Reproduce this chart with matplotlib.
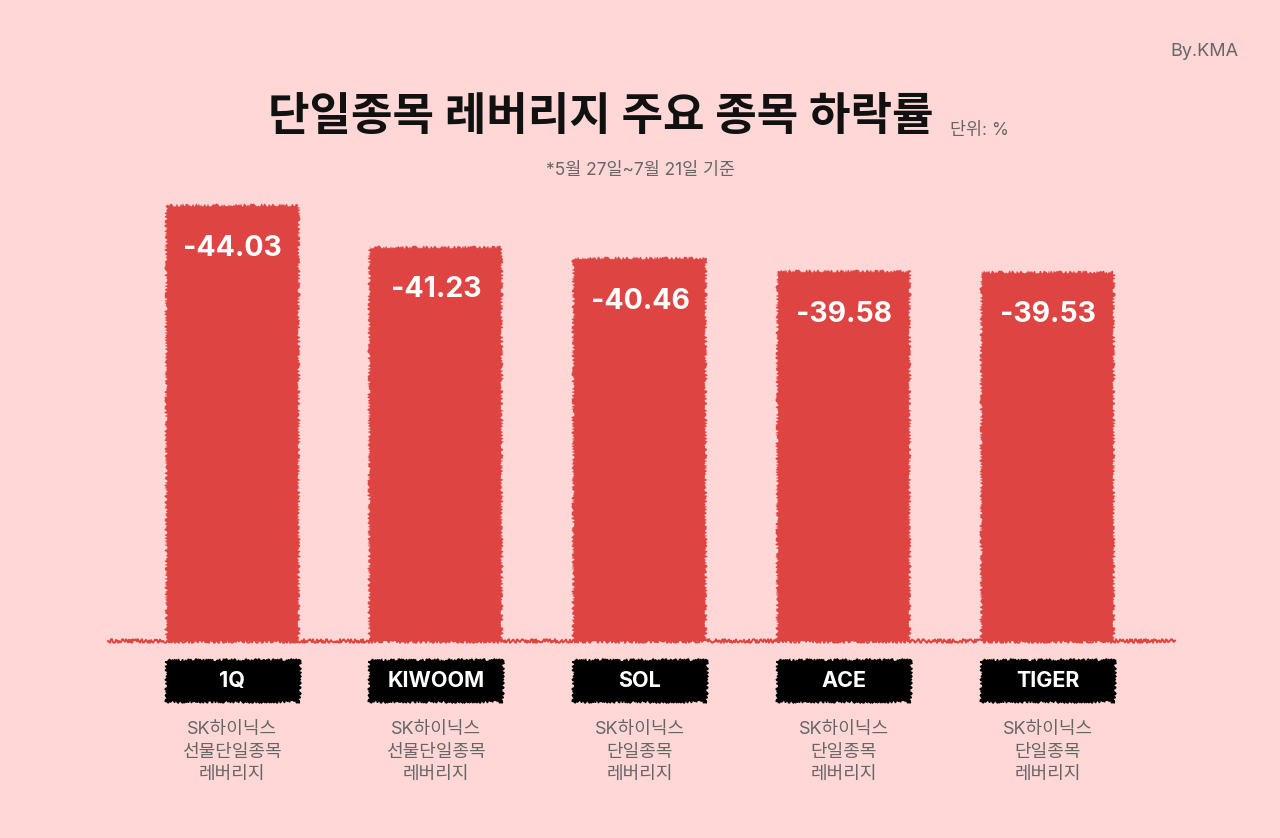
import matplotlib
matplotlib.use("Agg")
import matplotlib.pyplot as plt
from matplotlib.patches import Rectangle
from matplotlib.transforms import blended_transform_factory

# Inter for latin/digits, Noto CJK for hangul
plt.rcParams['font.family'] = ['Inter', 'Noto Sans CJK KR', 'DejaVu Sans']

brands = ['1Q', 'KIWOOM', 'SOL', 'ACE', 'TIGER']
values = [-44.03, -41.23, -40.46, -39.58, -39.53]
products = [
    'SK하이닉스\n선물단일종목\n레버리지',
    'SK하이닉스\n선물단일종목\n레버리지',
    'SK하이닉스\n단일종목\n레버리지',
    'SK하이닉스\n단일종목\n레버리지',
    'SK하이닉스\n단일종목\n레버리지',
]

BG = '#FFD7D7'
RED = '#DE4442'
GRAY = '#666666'

W, H = 1280, 838
fig = plt.figure(figsize=(W / 100, H / 100), dpi=100, facecolor=BG)

# axes placed in pixel terms: x 108..1175, y (from top) 200..641
ax = fig.add_axes([108 / W, 1 - 641 / H, (1175 - 108) / W, (641 - 200) / H])
ax.set_facecolor(BG)
ax.set_xlim(-0.608, 4.623)
ax.set_ylim(14.63, 44.37)
for s in ax.spines.values():
    s.set_visible(False)
ax.set_xticks([])
ax.set_yticks([])

x = list(range(len(brands)))
heights = [abs(v) for v in values]
bars = ax.bar(x, heights, width=0.652, color=RED, zorder=2)
for b in bars:
    b.set_sketch_params(scale=1.6, length=3, randomness=3)

# rough baseline
base = ax.axhline(14.63, color=RED, lw=1.4, clip_on=False, zorder=3)
base.set_sketch_params(scale=1.8, length=4, randomness=3)

for xi, h, v in zip(x, heights, values):
    ax.annotate(f'{v:.2f}', (xi, h), xytext=(0, -31), textcoords='offset points',
                ha='center', va='center', color='white', fontsize=20.5,
                fontweight='bold', zorder=4)

# black name boxes and product names below
tr = blended_transform_factory(ax.transData, fig.transFigure)
for xi, name, prod in zip(x, brands, products):
    box = Rectangle((xi - 0.326, 1 - 701 / H), 0.652, 41 / H, transform=tr,
                    facecolor='black', edgecolor='black', lw=1, clip_on=False)
    box.set_sketch_params(scale=1.5, length=3, randomness=3)
    fig.add_artist(box)
    fig.text(xi, 1 - 681 / H, name, transform=tr, ha='center', va='center',
             color='white', fontsize=15.5, fontweight='bold')
    fig.text(xi, 1 - 752 / H, prod, transform=tr, ha='center', va='center',
             color=GRAY, fontsize=13, linespacing=1.4)

fig.text(601 / W, 1 - 118 / H, '단일종목 레버리지 주요 종목 하락률', ha='center', va='center',
         fontsize=32.5, fontweight='bold', color='#111111')
fig.text(950 / W, 1 - 130 / H, '단위: %', ha='left', va='center', fontsize=12.5, color=GRAY)
fig.text(640 / W, 1 - 171 / H, '*5월 27일~7월 21일 기준', ha='center', va='center',
         fontsize=12.5, color=GRAY)
fig.text(1238 / W, 1 - 51 / H, 'By.KMA', ha='right', va='center', fontsize=13, color=GRAY)

fig.savefig('out.png', dpi=100, facecolor=BG)
